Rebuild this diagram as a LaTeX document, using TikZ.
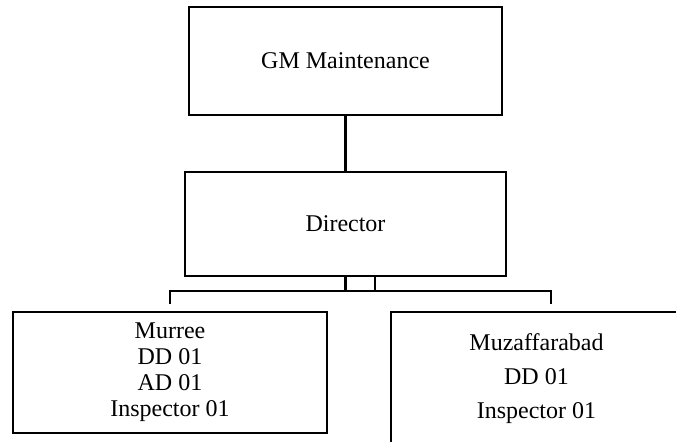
\documentclass[tikz,border=0pt]{standalone}
\usepackage{fontspec}
\setmainfont{Liberation Serif}
\usetikzlibrary{positioning}

\begin{document}
\begin{tikzpicture}[x=0.5pt, y=-0.5pt,
          box/.style={draw=black, line width=1.3pt, fill=white, inner sep=0pt, align=center, font=\fontsize{12}{13}\selectfont},
          wbox/.style={box, font=\fontsize{12}{17}\selectfont},
          conn/.style={draw=black, line width=1.3pt}]
        \useasboundingbox (0,0) rectangle (676,441);
        \clip (0,0) rectangle (676,441);
        \node[box, minimum width=156.5pt, minimum height=54pt] (gm) at (345.5,61) {GM Maintenance};
        \node[box, minimum width=160.5pt, minimum height=52pt] (director) at (345.5,224) {Director};
        \node[box, minimum width=157pt, minimum height=60.5pt] (murree) at (170,372.5) {Murree\\DD 01\\AD 01\\Inspector 01};
        \node[wbox, minimum width=145.5pt, minimum height=67pt] (muzaffarabad) at (536.5,379) {Muzaffarabad\\DD 01\\Inspector 01};
        \coordinate (busl) at (170,291);
        \coordinate (busr) at (551,291);
        \coordinate (dropl) at (170,304);
        \coordinate (dropr) at (551,304);
        \coordinate (legr) at (375,276);
        \draw[conn] (gm) -- (director);
        \draw[conn] (director.south) -- (director.south |- busl);
        \draw[conn] (legr) -- (legr |- busl);
        \draw[conn] (dropl) -- (busl) -- (busr) -- (dropr);
      \end{tikzpicture}
\end{document}
